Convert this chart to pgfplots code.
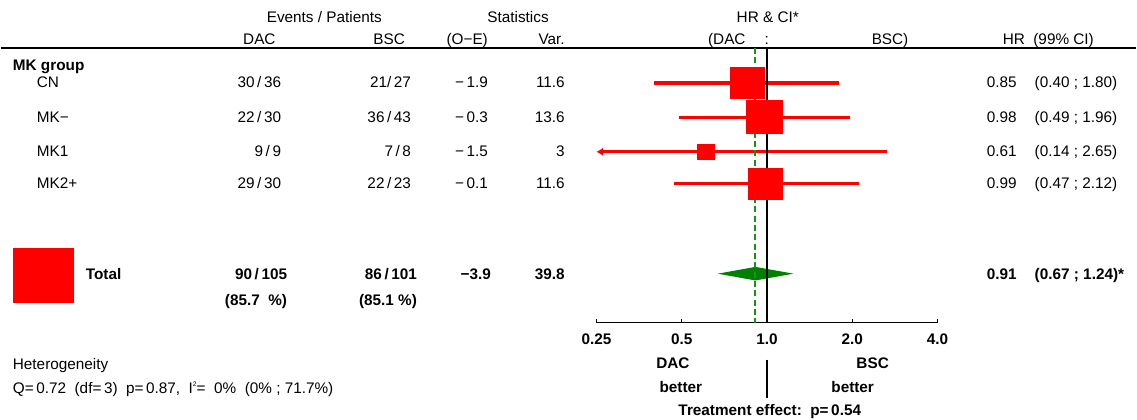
\documentclass[border=0pt]{standalone}
\usepackage{fontspec}
\setmainfont{Liberation Sans}
\usepackage{pgfplots}
\pgfplotsset{compat=1.18}
\usepackage{pgfplotstable}
\usetikzlibrary{arrows.meta}
\definecolor{fred}{RGB}{255,0,0}
\definecolor{fgreen}{RGB}{0,128,0}
\definecolor{dgreen}{RGB}{20,150,20}

% subgroup results: row position, HR, 99% CI, variance (box size)
\pgfplotstableread{
y     hr   lo   hi   var
83    0.85 0.40 1.80 11.6
117.5 0.98 0.49 1.96 13.6
152   0.61 0.14 2.65 3
184   0.99 0.47 2.12 11.6
}\subgroups

\newcommand{\fs}{\fontsize{11.5}{13.8}\selectfont}
\begin{document}
\begin{tikzpicture}[every node/.style={font=\fs, inner sep=0pt}]
\begin{scope}[x=0.75pt,y=-0.75pt]
\path (0,0) rectangle (1137,420);
% header
\node[anchor=base] at (324,22.5) {Events / Patients};
\node[anchor=base] at (518,22.5) {Statistics};
\node[anchor=base] at (768,22.5) {HR \& CI*};
\node[anchor=base] at (259,44.5) {DAC};
\node[anchor=base] at (389,44.5) {BSC};
\node[anchor=base east] at (488,44.5) {(O−E)};
\node[anchor=base east] at (565,44.5) {Var.};
\node[anchor=base west] at (708,44.5) {(DAC};
\node[anchor=base] at (767,44.5) {:};
\node[anchor=base east] at (909,44.5) {BSC)};
\node[anchor=base west] at (1003,44.5) {HR~~(99\% CI)};
\draw[line width=1pt] (0,48) -- (1137,48);
% rows
\node[anchor=base west] at (12,71) {\bfseries MK~group};
\node[anchor=base west] at (36,88) {CN};
\node[anchor=base west] at (36,122.5) {MK−};
\node[anchor=base west] at (36,157) {MK1};
\node[anchor=base west] at (36,189) {MK2+};
\node[anchor=base east] at (281,88) {30\,/\,36};
\node[anchor=base east] at (281,122.5) {22\,/\,30};
\node[anchor=base east] at (281,157) {9\,/\,9};
\node[anchor=base east] at (281,189) {29\,/\,30};
\node[anchor=base east] at (411,88) {21/\,27};
\node[anchor=base east] at (411,122.5) {36\,/\,43};
\node[anchor=base east] at (411,157) {7\,/\,8};
\node[anchor=base east] at (411,189) {22\,/\,23};
\node[anchor=base east] at (488,88) {−\,1.9};
\node[anchor=base east] at (488,122.5) {−\,0.3};
\node[anchor=base east] at (488,157) {−\,1.5};
\node[anchor=base east] at (488,189) {−\,0.1};
\node[anchor=base east] at (565,88) {11.6};
\node[anchor=base east] at (565,122.5) {13.6};
\node[anchor=base east] at (565,157) {3};
\node[anchor=base east] at (565,189) {11.6};
\node[anchor=base west] at (987,88) {0.85};
\node[anchor=base west] at (987,122.5) {0.98};
\node[anchor=base west] at (987,157) {0.61};
\node[anchor=base west] at (987,189) {0.99};
\node[anchor=base west] at (1035,88) {(0.40~;~1.80)};
\node[anchor=base west] at (1035,122.5) {(0.49~;~1.96)};
\node[anchor=base west] at (1035,157) {(0.14~;~2.65)};
\node[anchor=base west] at (1035,189) {(0.47~;~2.12)};
% total
\fill[fred] (12,248) rectangle (73,303);
\begin{scope}[every node/.append style={font=\fs\bfseries}]
\node[anchor=base west] at (85,279.5) {Total};
\node[anchor=base east] at (287,279.5) {90\,/\,105};
\node[anchor=base east] at (417,279.5) {86\,/\,101};
\node[anchor=base east] at (491,279.5) {−3.9};
\node[anchor=base east] at (565,279.5) {39.8};
\node[anchor=base east] at (287,306) {(85.7~~\%)};
\node[anchor=base east] at (417,306) {(85.1~\%)};
\node[anchor=base west] at (987,279.5) {0.91};
\node[anchor=base west] at (1035,279.5) {(0.67~;~1.24)*};
\node[anchor=base] at (673,368.5) {DAC};
\node[anchor=base] at (873,368.5) {BSC};
\node[anchor=base] at (681,392.5) {better};
\node[anchor=base] at (853,392.5) {better};
\node[anchor=base] at (770,415.5) {Treatment~effect:~~p=\,0.54};
\end{scope}
% heterogeneity
\node[anchor=base west] at (12,369.5) {Heterogeneity};
\node[anchor=base west] at (12,393.5) {Q=\,0.72~~(df=\,3)~~p=\,0.87,~~I\raisebox{0.75ex}{\tiny 2}=~~0\%~~(0\%~;~71.7\%)};
\end{scope}

\begin{axis}[
  at={(447.375pt,-242.25pt)}, anchor=south west,
  scale only axis, width=256.125pt, height=206.25pt,
  xmode=log, log basis x=2,
  xmin=0.25, xmax=4, ymin=48, ymax=323, y dir=reverse,
  enlargelimits=false, clip=false,
  axis x line*=bottom, axis y line=none,
  x axis line style={-, line width=1pt},
  xtick={0.25,0.5,1,2,4},
  xticklabels={0.25,0.5,1.0,2.0,4.0},
  xtick pos=bottom,
  tick align=inside, major tick length=3pt,
  every tick/.style={black, line width=1pt},
  xticklabel style={font=\fs\bfseries, inner sep=0pt, anchor=north, yshift=-8.5pt},
  minor tick num=0,
]
% confidence intervals
\addplot[fred, line width=2.4pt] coordinates {(0.40,83) (1.80,83)};
\addplot[fred, line width=2.4pt] coordinates {(0.49,117.5) (1.96,117.5)};
\addplot[fred, line width=2.4pt, -{Latex[length=5pt,width=6.5pt]}] coordinates {(2.65,152) (0.25,152)};
\addplot[fred, line width=2.4pt] coordinates {(0.47,184) (2.12,184)};
% boxes sized by variance
\addplot[only marks, mark=square*,
  scatter, scatter/use mapped color={fill=fred, draw=fred},
  mark options={line width=0pt, yscale=0.9},
  visualization depends on={3.75*sqrt(\thisrow{var}) \as \msize},
  scatter/@pre marker code/.append style={/tikz/mark size=\msize}]
  table[x=hr, y=y] {\subgroups};
% overall diamond
\addplot[fill=fgreen, draw=none] coordinates {(0.67,274) (0.91,267.2) (1.24,274) (0.91,280.8)} -- cycle;
% reference lines
\addplot[draw=dgreen, solid, line width=1.5pt, dash pattern=on 4.5pt off 2.5pt, mark=none] coordinates {(0.91,48) (0.91,323)};
\addplot[draw=black, line width=0.9pt, mark=none] coordinates {(1,48) (1,323)};
\addplot[draw=black, line width=0.9pt, mark=none] coordinates {(1,360) (1,398)};
\end{axis}
\end{tikzpicture}
\end{document}
